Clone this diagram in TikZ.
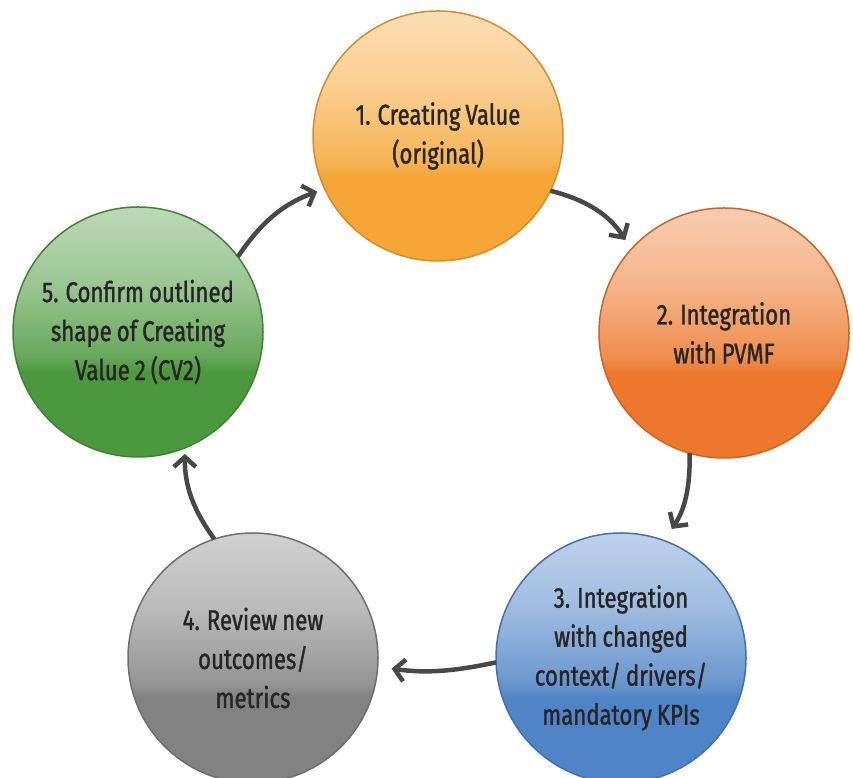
\documentclass[tikz,border=0pt]{standalone}
\usepackage{fontspec}
\setmainfont{Fira Sans}[FakeStretch=0.78, FakeBold=1.2, WordSpace=0.85]
\usetikzlibrary{arrows.meta}

\definecolor{ballyellow}{RGB}{245,166,55}
\definecolor{ballorange}{RGB}{237,120,45}
\definecolor{ballblue}{RGB}{80,132,198}
\definecolor{ballgray}{RGB}{130,130,130}
\definecolor{ballgreen}{RGB}{76,152,62}
\definecolor{arrowgray}{RGB}{72,72,72}
\colorlet{ballbase}{ballgray}

\pgfdeclareverticalshading[ballbase]{glossy}{100bp}{%
  color(0bp)=(ballbase); color(42bp)=(ballbase);
  color(45bp)=(ballbase!85!white); color(60bp)=(ballbase!55!white);
  color(100bp)=(ballbase!8!white)}

\begin{document}
\begin{tikzpicture}[x=1pt, y=1pt,
  ball/.style={circle, minimum size=250pt, inner sep=0pt, outer sep=0pt,
    /utils/exec={\colorlet{ballbase}{#1}}, shade, shading=glossy,
    draw=#1!85!black, line width=1.5pt,
    align=center, text=black!85, font=\fontsize{28.5}{39}\selectfont},
  flow/.style={arrowgray, line width=4.5pt, -{Straight Barb[length=10pt, width=22pt]}}]

\clip (0,0) rectangle (853,778);

\node[ball=ballyellow] (cv) at (438,642) {1. Creating Value\\(original)};
\node[ball=ballorange] (pvmf) at (724,445) {2. Integration\\with PVMF};
\node[ball=ballblue] (ctx) at (621,120) {3. Integration\\with changed\\context/ drivers/\\mandatory KPIs};
\node[ball=ballgray] (review) at (253,120) {4. Review new\\outcomes/\\metrics};
\node[ball=ballgreen] (cv2) at (138,446) {5. Confirm outlined\\shape of Creating\\Value 2 (CV2)};

\draw[flow, shorten >=11pt] (cv.-26) to[bend left=22] (pvmf.138);
\draw[flow, shorten >=14pt] (pvmf.-106) to[bend left=18] (ctx.70);
\draw[flow, shorten >=14pt] (ctx.182) to[bend left=10] (review.-4);
\draw[flow, shorten >=6pt] (review.108) to[bend left=18] (cv2.-68);
\draw[flow, shorten >=8pt] (cv2.37) to[bend left=18] (cv.205);

\end{tikzpicture}
\end{document}
